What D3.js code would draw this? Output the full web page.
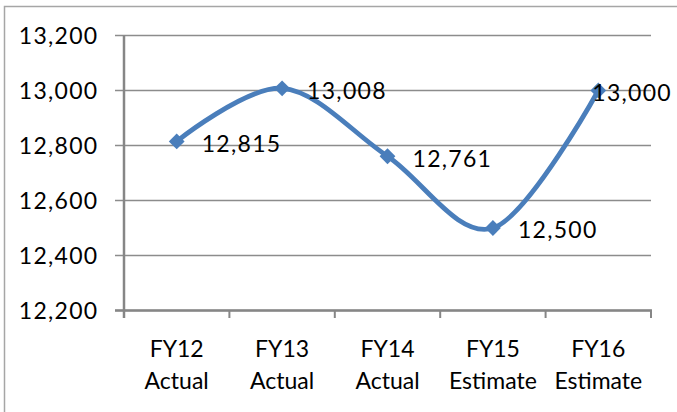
<!DOCTYPE html>
<html>
<head>
<meta charset="utf-8">
<script src="https://cdn.jsdelivr.net/npm/d3@7"></script>
<style>
  body { margin: 0; background: #fff; }
  svg { display: block; }
  text { font-family: Lato, "Open Sans", sans-serif; fill: #000; }
  .num { letter-spacing: 1.3px; }
</style>
</head>
<body>
<svg id="chart" width="677" height="412"></svg>
<script>
// values
var years = ['FY12', 'FY13', 'FY14', 'FY15', 'FY16']
var kinds = ['Actual', 'Actual', 'Actual', 'Estimate', 'Estimate']
var values = [12815, 13008, 12761, 12500, 13000]
var yTicks = [12200, 12400, 12600, 12800, 13000, 13200]

var blue = '#4a7ebb'
var fontSize = 23

var svg = d3.select('#chart')

// chart frame (only left and top edges are inside the picture)
svg.append('path')
    .attr('d', 'M4.5,412V6.5H677')
    .attr('fill', 'none')
    .attr('stroke', '#a6a6a6')
    .attr('stroke-width', 1.5)

var x = d3.scaleBand()
    .domain(years)
    .range([124, 651])

var y = d3.scaleLinear()
    .domain([12200, 13200])
    .range([310.5, 35.5])

var cx = d => x(d) + x.bandwidth() / 2

// horizontal gridlines + left tick marks
svg.append('g')
  .selectAll('line')
  .data(yTicks)
  .join('line')
    .attr('x1', 115)
    .attr('x2', 651)
    .attr('y1', d => y(d))
    .attr('y2', d => y(d))
    .attr('stroke', '#8c8c8c')
    .attr('stroke-width', 1.6)

svg.append('g')
  .selectAll('text')
  .data(yTicks)
  .join('text')
    .attr('class', 'num')
    .attr('x', 98.5)
    .attr('y', d => y(d))
    .attr('dy', '0.36em')
    .attr('text-anchor', 'end')
    .style('font-size', fontSize + 'px')
    .text(d => d3.format(',')(d))

// axis lines
svg.append('line')
    .attr('x1', 124).attr('x2', 124)
    .attr('y1', y(13200)).attr('y2', 318)
    .attr('stroke', '#868686')
    .attr('stroke-width', 2.5)

svg.append('line')
    .attr('x1', 115).attr('x2', 652)
    .attr('y1', y(12200)).attr('y2', y(12200))
    .attr('stroke', '#868686')
    .attr('stroke-width', 2.5)

// x tick marks sit on the band edges
var edges = years.map(d => x(d)).concat([x.range()[1]])
svg.append('g')
  .selectAll('line')
  .data(edges)
  .join('line')
    .attr('x1', d => d).attr('x2', d => d)
    .attr('y1', y(12200)).attr('y2', 318)
    .attr('stroke', '#868686')
    .attr('stroke-width', 2)

var xl = svg.append('g')
  .selectAll('text')
  .data(years)
  .join('text')
    .attr('text-anchor', 'middle')
    .style('font-size', fontSize + 'px')
xl.append('tspan')
    .attr('x', d => cx(d))
    .attr('y', 357)
    .text(d => d)
xl.append('tspan')
    .attr('x', d => cx(d))
    .attr('y', 388.5)
    .text((d, i) => kinds[i])

// smoothed series line
var pts = years.map((d, i) => [cx(d), y(values[i])])

svg.append('path')
    .datum(pts)
    .attr('fill', 'none')
    .attr('stroke', blue)
    .attr('stroke-width', 4.8)
    .attr('stroke-linejoin', 'round')
    .attr('d', d3.line().curve(d3.curveCardinal))

svg.append('g')
  .selectAll('path')
  .data(pts)
  .join('path')
    .attr('d', d3.symbol(d3.symbolSquare, 125))
    .attr('transform', d => `translate(${d[0]},${d[1]}) rotate(45)`)
    .attr('fill', blue)

// data labels to the right of the points, kept inside the frame
svg.append('g')
  .selectAll('text')
  .data(pts)
  .join('text')
    .attr('class', 'num')
    .attr('y', d => d[1] + 2)
    .attr('dy', '0.36em')
    .style('font-size', fontSize + 'px')
    .text((d, i) => d3.format(',')(values[i]))
    .attr('x', function(d) {
      var w = this.getComputedTextLength()
      return Math.min(d[0] + 25, 672 - w)
    })
</script>
</body>
</html>
